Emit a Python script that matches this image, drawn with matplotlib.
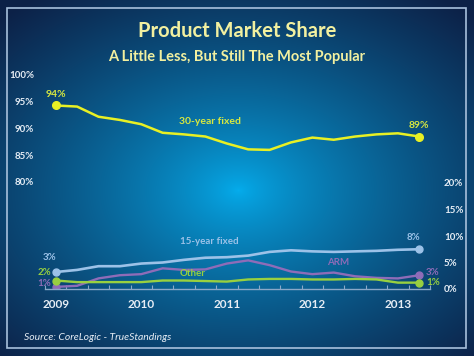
import numpy as np
import matplotlib.pyplot as plt
from matplotlib.patches import Rectangle

# quarterly data, 2009 Q1 .. 2013 Q2
quarters = np.arange(18) * 0.25 + 2009.0
fixed30 = [94.3, 94.1, 92.2, 91.6, 90.8, 89.2, 88.9, 88.5, 87.2,
           86.1, 86.0, 87.4, 88.3, 87.9, 88.5, 88.9, 89.1, 88.5]
fixed15 = [3.2, 3.6, 4.3, 4.3, 4.8, 5.0, 5.5, 5.9, 6.0,
           6.3, 7.0, 7.3, 7.1, 7.0, 7.1, 7.2, 7.4, 7.5]
arm = [0.4, 0.6, 2.0, 2.6, 2.8, 3.9, 3.6, 3.7, 4.8,
       5.4, 4.5, 3.3, 2.8, 3.1, 2.4, 2.1, 2.0, 2.6]
other = [1.6, 1.3, 1.3, 1.3, 1.3, 1.6, 1.6, 1.5, 1.4,
         1.8, 1.9, 1.9, 1.8, 1.8, 1.9, 1.8, 1.2, 1.2]
years = [2009, 2010, 2011, 2012, 2013]
top_ticks = [80, 85, 90, 95, 100]
bot_ticks = [0, 5, 10, 15, 20]

c30 = "#e8f024"
c15 = "#9cc2e8"
carm = "#8e6cb8"
coth = "#98d040"
ctxt = "#e6edf5"
font = "Lato"

fig = plt.figure(figsize=(4.74, 3.56), dpi=100)

# background radial gradient
bg = fig.add_axes([0, 0, 1, 1])
yy, xx = np.mgrid[0:356, 0:474]
r = np.sqrt(((xx - 238) / 340.0) ** 2 + ((yy - 190) / 240.0) ** 2)
r = np.clip(r, 0, 1)
inner = np.array([0.02, 0.68, 0.93])
outer = np.array([0.05, 0.13, 0.28])
t = r[..., None] ** 0.75
img = inner * (1 - t) + outer * t
bg.imshow(img, extent=[0, 474, 356, 0], aspect="auto")
bg.set_xlim(0, 474)
bg.set_ylim(356, 0)
bg.axis("off")
bg.add_patch(Rectangle((7.5, 7.5), 458.5, 340, fill=False, ec="#a8c0dc", lw=1.2))

bg.text(237, 31, "Product Market Share", color="#f2f0a0", fontsize=14.5,
        fontweight="bold", family=font, ha="center", va="center")
bg.text(237, 57, "A Little Less, But Still The Most Popular", color="#f2f0a0",
        fontsize=10.5, fontweight="bold", family=font, ha="center", va="center")
bg.text(24, 337, "Source: CoreLogic - TrueStandings", color=ctxt, fontsize=7.5,
        style="italic", family=font, ha="left", va="center")

x0, x1 = 2008.875, 2013.375
left, width = 45 / 474, 385 / 474

# top axis: 30-year fixed
ax1 = fig.add_axes([left, 1 - 182 / 356, width, 107 / 356])
ax1.patch.set_alpha(0)
ax1.plot(quarters, fixed30, color=c30, lw=1.8)
ax1.plot([quarters[0], quarters[-1]], [fixed30[0], fixed30[-1]], "o",
         color=c30, ms=5.5)
ax1.set_xlim(x0, x1)
ax1.set_ylim(80, 100)
ax1.set_yticks(top_ticks)
ax1.set_yticklabels([f"{v}%" for v in top_ticks])
ax1.tick_params(axis="y", length=0, pad=8, labelsize=7, labelcolor=ctxt)
ax1.set_xticks([])
for lab in ax1.get_yticklabels():
    lab.set_fontweight("bold")
    lab.set_family(font)
for s in ax1.spines.values():
    s.set_visible(False)
ax1.text(quarters[0], fixed30[0] + 1.3, "94%", color="#d8e840", fontsize=7.5,
         fontweight="bold", family=font, ha="center", va="bottom")
ax1.text(quarters[-1], fixed30[-1] + 1.3, "89%", color="#d8e840", fontsize=7.5,
         fontweight="bold", family=font, ha="center", va="bottom")
ax1.text(2010.8, 91.3, "30-year fixed", color="#d8e840", fontsize=7.5,
         fontweight="bold", family=font, ha="center", va="center")

# bottom axis: 15-year, ARM, other
ax2 = fig.add_axes([left, 1 - 289 / 356, width, 106 / 356])
ax2.patch.set_alpha(0)
ax2.plot(quarters, arm, color=carm, lw=1.7)
ax2.plot(quarters, fixed15, color=c15, lw=1.9)
ax2.plot(quarters, other, color=coth, lw=1.7)
for vals, col in [(fixed15, c15), (arm, carm), (other, coth)]:
    ax2.plot([quarters[0], quarters[-1]], [vals[0], vals[-1]], "o",
             color=col, ms=5)
ax2.set_xlim(x0, x1)
ax2.set_ylim(0, 20)
ax2.yaxis.tick_right()
ax2.set_yticks(bot_ticks)
ax2.set_yticklabels([f"{v}%" for v in bot_ticks])
ax2.tick_params(axis="y", length=0, pad=10, labelsize=7, labelcolor=ctxt)
ax2.set_xticks(years)
ax2.set_xticklabels([str(y) for y in years])
ax2.set_xticks(np.arange(x0, x1 + 0.01, 0.25), minor=True)
ax2.tick_params(axis="x", which="major", length=0, pad=7, labelsize=8.5,
                labelcolor=ctxt)
ax2.tick_params(axis="x", which="minor", direction="in", length=3,
                color="#8aa8c8", width=0.8)
for lab in ax2.get_yticklabels() + ax2.get_xticklabels():
    lab.set_fontweight("bold")
    lab.set_family(font)
for s in ["top", "left", "right"]:
    ax2.spines[s].set_visible(False)
ax2.spines["bottom"].set_color("#8aa8c8")
ax2.spines["bottom"].set_linewidth(1)

lbl = dict(fontsize=7, fontweight="bold", family=font, va="center")
ax2.text(2008.93, 5.9, "3%", color=c15, ha="center", **lbl)
ax2.text(2008.95, 3.2, "2%", color=coth, ha="right", **lbl)
ax2.text(2008.95, 1.1, "1%", color=carm, ha="right", **lbl)
ax2.text(2013.18, 9.8, "8%", color=c15, ha="center", **lbl)
ax2.text(2013.33, 3.2, "3%", color=carm, ha="left", **lbl)
ax2.text(2013.33, 1.3, "1%", color=coth, ha="left", **lbl)
ax2.text(2010.8, 8.9, "15-year fixed", color=c15, ha="center", **lbl)
ax2.text(2012.3, 5.0, "ARM", color=carm, ha="center", **lbl)
ax2.text(2010.6, 2.9, "Other", color=coth, ha="center", **lbl)

fig.savefig("out.png", dpi=100)
